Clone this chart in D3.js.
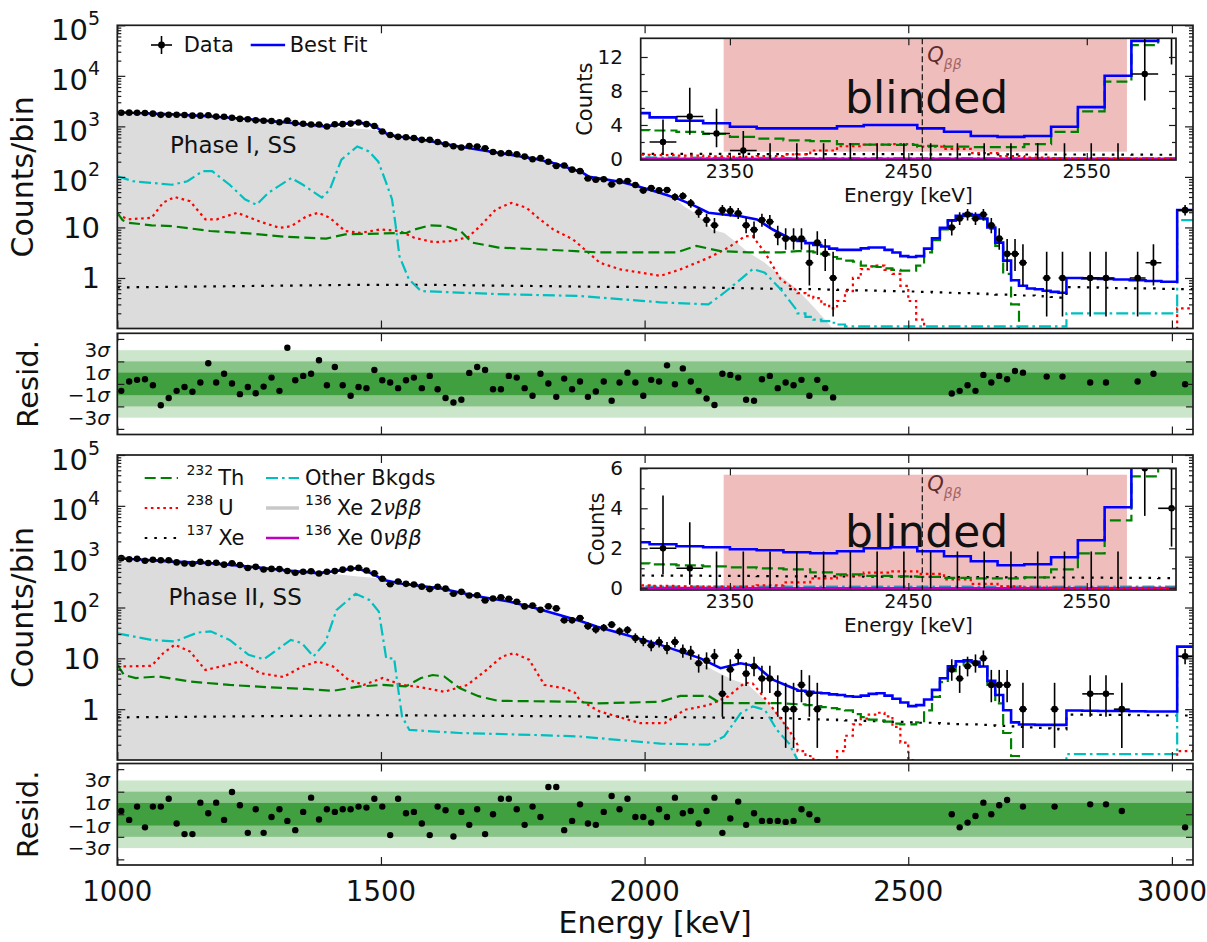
<!DOCTYPE html>
<html>
<head>
<meta charset="utf-8">
<script src="https://cdn.jsdelivr.net/npm/d3@7"></script>
<style>
  body { margin: 0; background: #fff; }
  svg { display: block; }
  text { font-family: "DejaVu Sans", "Liberation Sans", sans-serif; fill: #111; }
</style>
</head>
<body>
<svg id="chart" width="1207" height="942"></svg>
<script>
// ---------------- axis ticks and labels ----------------
const energyTicks = [1000, 1500, 2000, 2500, 3000];
const decadeTicks = [1, 10, 100, 1000, 10000, 100000];
const residTickMarks = [-4, -2, 0, 2, 4];
const residLabelValues = [3, 1, -1, -3];
const insetEnergyTicks = [2350, 2450, 2550];
const insetCountTicksI = [0, 4, 8, 12];
const insetCountMinorI = [2, 6, 10];
const insetCountTicksII = [0, 2, 4, 6];
const insetCountMinorII = [1, 3, 5];
const qBetaBeta = 2457.8;
const blindedWindow = [2346.5, 2572.5];
const blindedCountsI = [0.86, 14.2];
const blindedCountsII = [0.11, 5.68];
const phaseTitles = ["Phase I, SS", "Phase II, SS"];

// ---------------- binning: 15 keV up to 2800 keV, 30 keV above ----------------
const binEdges = d3.range(1000, 2800, 15).concat(d3.range(2800, 3041, 30));
const binCenters = binEdges.slice(0, -1).map((e, i) => (e + binEdges[i + 1]) / 2);
const TAIL_START = 86; // first stepped bin starts at 2290 keV

// ---------------- Phase I : observed counts per bin ----------------
const countsI = [
  1863,1869,1855,1833,1785,1690,1697,1699,1684,1631,1630,1663,1560,1550,1476,1405,1380,1315,1291,1280,
  1203,1306,1161,1124,1089,1092,996,1099,1106,1134,1191,1107,1019,789,673,620,608,588,541,541,
  489,443,405,381,409,399,368,312,292,297,281,252,224,235,200,165,168,139,130,93,
  88,90,71,82,83,69,54,60,54,55,40,42,30,20,14,11,22,21,19,11,
  9,14,13,7,6,6,6,2,5,3,1,
  0,0,0,0,0,0,0,0,0,0,0,0,0,0,
  10,15,18,15,18,11,6,3,3,2,0,0,1,0,1,
  0,1,1,0,1,2,0,22
];
const residI = [
  -0.62,0.21,0.36,0.42,-0.12,-1.9,-1.26,-0.62,-0.27,-0.7,0.12,1.83,0.12,0.9,0.03,-0.91,-0.27,-0.83,-0.24,0.56,
  -0.62,3.21,0.33,0.71,0.9,2.1,-0.12,1.5,-0.12,-1.06,-0.27,-0.38,1.24,0.33,0.12,-0.38,0.33,0.56,-0.38,0.71,
  -0.47,-1.26,-1.65,-1.41,0.98,1.5,1.24,-0.47,-0.47,0.71,0.56,-0.38,-1.06,0.9,0.03,-1.15,0.47,-0.47,0.21,-1.15,
  -0.68,0.21,-1.5,0.12,1.0,0.12,-1.06,0.36,0.21,1.65,-0.03,1.38,0.21,-0.62,-1.3,-1.88,0.9,0.8,0.56,-1.41,
  -1.5,0.42,0.71,-0.38,0.12,-0.12,0.36,-1.06,0.36,-0.38,-1.2,
  null,null,null,null,null,null,null,null,null,null,null,null,null,null,
  -0.85,-0.62,-0.12,-0.62,0.8,0.12,0.71,0.42,1.15,1.0,null,null,0.65,null,0.65,
  null,0.12,0.12,null,0.21,0.9,null,-0.03
];

// ---------------- Phase II : observed counts per bin ----------------
const countsII = [
  934,890,905,831,870,850,849,772,736,726,793,752,758,697,742,686,598,631,560,574,
  570,521,483,505,517,468,505,520,555,586,601,533,469,368,287,324,292,284,257,230,
  256,235,186,203,172,174,138,150,158,148,130,105,109,90,105,96,56,56,62,43,
  37,40,46,34,36,25,22,18,21,16,21,14,13,8,9,11,2,6,11,5,
  7,4,4,2,1,1,3,2,1,
  0,0,0,0,0,0,0,0,0,0,0,0,0,0,0,0,
  6,4,7,8,10,3,3,3,0,1,0,0,0,1,0,
  0,2,2,1,0,0,0,11
];
const residII = [
  0.29,-0.5,0.68,-1.16,0.68,0.68,1.38,-0.82,-1.76,-1.76,1.03,0.09,1.03,-0.5,1.97,0.8,-1.65,0.44,-1.65,-0.24,
  0.44,-0.59,-1.41,0.21,1.47,-0.47,0.44,0.21,0.44,0.44,0.68,0.59,1.38,0.68,-1.85,1.38,0.09,0.21,-0.82,-1.85,
  0.68,0.35,-1.97,0.21,-0.94,0.44,-1.76,0,1.38,1.38,0.44,-0.94,0.68,-0.24,2.41,2.41,-1.41,-0.59,0.88,-0.82,
  -0.94,0.21,1.62,0.44,1.38,-0.24,-0.24,-0.74,0.44,-0.24,1.47,0.09,0.29,-0.82,0.29,1.47,-1.65,-0.38,1.12,-0.94,
  0.09,-0.59,-0.59,-0.59,-0.68,-0.59,0.44,0,-0.5,
  null,null,null,null,null,null,null,null,null,null,null,null,null,null,null,null,
  0,-1.16,-0.74,-0.15,1.03,0,0.8,1.27,null,0.68,null,null,null,0.68,null,
  null,0.88,0.88,0.29,null,null,null,-1.16
];

// ---------------- Phase I : fit components, [keV, counts/bin] below 2290 keV ----------------
const bestFitKnotsI = [[1000,1900],[1050,1820],[1104,1740],[1165,1600],[1227,1450],[1270,1330],[1315,1210],[1355,1100],[1394,1000],[1420,1080],[1452,1200],[1475,1130],[1490,980],[1505,760],[1520,660],[1576,550],[1648,400],[1721,300],[1794,227],[1830,185],[1866,139],[1880,125],[1895,100],[1954,80],[1990,64],[2030,48],[2060,38],[2091,28],[2121,19.5],[2150,18],[2182,16.7],[2213,14.4],[2243,9.1],[2274,6.2],[2290,5.6]];
const twoNuKnotsI = [[1000,1850],[1104,1700],[1227,1420],[1315,1190],[1394,980],[1430,940],[1460,900],[1490,850],[1505,740],[1520,650],[1576,540],[1648,390],[1721,292],[1794,220],[1866,135],[1895,97],[1954,78],[2030,46],[2054,40],[2075,26],[2100,18],[2128,9],[2151,7.8],[2175,5],[2197,3.2],[2228,2.0],[2258,1.1],[2289,0.6],[2319,0.28],[2342,0.15],[2360,0.09]];
const thKnotsI = [[1000,19.5],[1010,14],[1021,12.4],[1065,11],[1104,10.6],[1176,8.5],[1249,7.6],[1322,6.5],[1396,6],[1432,7.3],[1505,7.6],[1549,7.8],[1564,9.1],[1593,11],[1622,10.6],[1651,8.5],[1673,5],[1723,4],[1796,3.7],[1869,3.4],[1913,3.2],[2060,3.2],[2098,4.3],[2144,3.4],[2200,3.2],[2260,3.2],[2290,3.4]];
const uKnotsI = [[1000,18],[1021,14.5],[1065,15.5],[1087,31],[1109,40],[1138,33],[1167,14.5],[1189,14.5],[1227,19.5],[1271,13],[1308,9.8],[1330,10.6],[1359,16.6],[1381,19.5],[1403,15.5],[1432,8.5],[1461,7.8],[1498,9.1],[1535,8.5],[1564,6.2],[1601,5.1],[1637,5.4],[1666,6.5],[1688,10.6],[1718,22.7],[1747,30.6],[1776,24.5],[1798,15.5],[1827,9.1],[1864,5.8],[1893,3.2],[1915,2.0],[1954,1.48],[2030,1.1],[2068,1.48],[2121,2.5],[2159,4],[2190,6.7],[2205,6.7],[2228,3.2],[2258,0.94],[2290,0.55]];
const xe137KnotsI = [[1000,0.65],[1450,0.73],[1600,0.73],[1913,0.67],[2100,0.65],[2290,0.6]];
const otherKnotsI = [[1000,103],[1030,82],[1104,70],[1133,82],[1162,130],[1180,130],[1213,70],[1242,36],[1264,28],[1286,48],[1330,95],[1352,70],[1388,39],[1403,56],[1425,220],[1455,400],[1477,320],[1495,200],[1510,76],[1521,36],[1528,10.7],[1535,2.7],[1553,0.94],[1576,0.55],[1721,0.48],[1877,0.44],[2030,0.33],[2121,0.3],[2151,0.51],[2182,0.94],[2205,1.5],[2228,1.27],[2258,0.6],[2290,0.22]];

// ---------------- Phase I : fit components per bin from 2290 keV ----------------
const bestFitTailI = [5.4,4.9,4.5,4.2,3.8,3.6,3.6,3.6,3.85,4.0,4.0,3.6,3.2,2.7,2.6,2.7,3.8,6.1,9.8,13.9,17,18.5,17.5,15,10,5,2.2,0.9,0.7,0.62,0.6,0.56,0.53,0.51, 1.0,0.98,0.96,0.93,0.9,0.87,0.84,22];
const thTailI = [3.4,3.35,3.2,2.95,2.6,2.4,2.2,2.1,1.75,1.7,1.65,1.55,1.45,1.4,1.4,1.75,3.2,5.6,9.1,13.4,16.5,18,17,14.5,9.5,4.3,1.2,0.3,0.05,0.02,0.02,0.02,0.02,0.02, 0.01,0.01,0.01,0.01,0.01,0.01,0.01,0.01];
const uTailI = [0.5,0.45,0.4,0.3,0.25,0.35,0.55,1.0,1.5,1.7,1.75,1.45,1.2,0.7,0.35,0.15,0.06,0.03,0.02,0.02,0.02,0.02,0.02,0.02,0.02,0.02,0.02,0.02,0.02,0.02,0.02,0.02,0.02,0.02, 0.03,0.03,0.03,0.03,0.03,0.03,0.03,0.25];
const xe137TailI = [0.6,0.6,0.6,0.59,0.59,0.58,0.58,0.57,0.57,0.56,0.56,0.55,0.55,0.54,0.54,0.53,0.53,0.52,0.52,0.51,0.5,0.5,0.49,0.49,0.48,0.47,0.47,0.46,0.45,0.45,0.44,0.43,0.42,0.41, 0.66,0.65,0.64,0.63,0.62,0.62,0.61,0.6];
const otherTailI = [0.2,0.17,0.15,0.14,0.13,0.12,0.11,0.11,0.11,0.11,0.11,0.11,0.11,0.11,0.11,0.11,0.11,0.11,0.11,0.11,0.11,0.11,0.11,0.11,0.11,0.11,0.11,0.11,0.11,0.11,0.11,0.11,0.11,0.11, 0.2,0.2,0.2,0.2,0.2,0.2,0.2,14];
const zeroNuTailI = [0.02,0.02,0.02,0.02,0.02,0.02,0.02,0.02,0.02,0.02,0.02,0.02,0.02,0.02,0.02,0.02,0.02,0.02,0.02,0.02,0.02,0.02,0.02,0.02,0.02,0.02,0.02,0.02,0.02,0.02,0.02,0.02,0.02,0.02, 0.02,0.02,0.02,0.02,0.02,0.02,0.02,0.02];

// ---------------- Phase II : fit components, [keV, counts/bin] below 2290 keV ----------------
const bestFitKnotsII = [[1000,933],[1050,870],[1104,800],[1176,745],[1249,640],[1322,535],[1380,475],[1409,510],[1452,590],[1474,510],[1490,430],[1503,350],[1540,293],[1612,240],[1685,165],[1743,131],[1794,97],[1837,72],[1881,53],[1910,42],[1954,31],[2030,18.4],[2106,10],[2144,6.4],[2182,8],[2213,6.9],[2243,3.8],[2274,2.8],[2290,2.4]];
const twoNuKnotsII = [[1000,900],[1104,780],[1176,725],[1249,625],[1322,520],[1380,460],[1420,445],[1452,410],[1490,380],[1503,340],[1540,285],[1612,235],[1685,160],[1743,127],[1794,94],[1837,70],[1881,51],[1954,30],[2030,17.5],[2054,15],[2076,13],[2100,9],[2128,6],[2167,3.8],[2197,3],[2228,1.5],[2258,0.72],[2274,0.39],[2293,0.09]];
const thKnotsII = [[1000,7.4],[1013,4.7],[1035,4.1],[1079,4.4],[1138,3.5],[1213,3.0],[1286,2.7],[1358,2.5],[1409,2.3],[1460,2.8],[1503,3.0],[1547,2.8],[1576,4.1],[1598,4.7],[1620,4.4],[1649,2.6],[1685,1.8],[1722,1.46],[1868,1.4],[1910,1.3],[2030,1.4],[2068,1.83],[2121,1.83],[2144,1.31],[2258,1.31],[2290,1.25]];
const uKnotsII = [[1000,6.9],[1065,7.1],[1087,12.6],[1109,18.5],[1138,13.6],[1167,5.9],[1196,6.9],[1233,8.7],[1271,5.1],[1315,4.3],[1351,6.9],[1380,8.7],[1409,6.9],[1438,3.8],[1467,3.0],[1503,4.1],[1540,3.0],[1576,2.7],[1620,2.2],[1664,3.0],[1700,5.9],[1730,10.9],[1752,12.6],[1781,9.4],[1810,3.0],[1846,2.6],[1868,2.1],[1877,1.5],[1915,0.9],[1992,0.53],[2038,0.53],[2076,0.97],[2121,1.2],[2159,1.8],[2190,3.3],[2205,3.2],[2236,1.3],[2274,0.39],[2290,0.2]];
const xe137KnotsII = [[1000,0.69],[1500,0.76],[1910,0.72],[2290,0.66]];
const otherKnotsII = [[1000,31],[1065,23],[1109,21.4],[1152,32],[1177,34],[1213,23],[1249,11.7],[1278,9.6],[1329,23],[1350,20],[1372,10.9],[1394,20],[1416,90],[1452,186],[1478,141],[1496,83],[1510,10],[1525,10],[1532,2.8],[1540,0.72],[1554,0.39],[1649,0.34],[1794,0.31],[1877,0.29],[2030,0.21],[2121,0.2],[2151,0.29],[2182,0.83],[2205,1.13],[2228,0.97],[2251,0.39],[2274,0.21],[2290,0.1]];

// ---------------- Phase II : fit components per bin from 2290 keV ----------------
const bestFitTailII = [2.3,2.2,2.1,2.05,1.95,1.9,1.8,1.75,1.85,2.0,2.05,1.85,1.6,1.35,1.15,1.2,1.55,2.4,4.05,7,8.7,9.1,8.5,6.9,3.6,1.9,0.95,0.55,0.5,0.5,0.49,0.49,0.49,0.49, 0.94,0.93,0.92,0.92,0.91,0.9,0.9,17];
const thTailII = [1.25,1.2,1.15,1.1,1.05,1.0,0.95,0.8,0.7,0.62,0.6,0.57,0.52,0.5,0.5,0.55,0.95,1.75,3.4,5.6,7.5,8.6,8.0,6.9,3.0,1.3,0.34,0.12,0.03,0.01,0.01,0.01,0.01,0.01, 0.01,0.01,0.01,0.01,0.01,0.01,0.01,0.01];
const uTailII = [0.15,0.12,0.1,0.08,0.08,0.15,0.3,0.5,0.65,0.78,0.85,0.72,0.45,0.22,0.1,0.04,0.02,0.02,0.02,0.02,0.02,0.02,0.02,0.02,0.02,0.02,0.02,0.02,0.02,0.02,0.02,0.02,0.02,0.02, 0.02,0.02,0.02,0.02,0.02,0.02,0.02,0.15];
const xe137TailII = [0.64,0.63,0.63,0.62,0.62,0.61,0.6,0.6,0.59,0.58,0.58,0.57,0.56,0.56,0.55,0.54,0.54,0.53,0.52,0.52,0.51,0.5,0.5,0.49,0.48,0.47,0.47,0.46,0.45,0.44,0.43,0.42,0.41,0.4, 0.78,0.78,0.77,0.77,0.76,0.76,0.75,0.75];
const otherTailII = [0.1,0.09,0.09,0.09,0.09,0.09,0.09,0.09,0.09,0.09,0.09,0.09,0.09,0.09,0.09,0.09,0.09,0.09,0.09,0.09,0.09,0.09,0.09,0.09,0.09,0.09,0.09,0.09,0.09,0.09,0.09,0.09,0.09,0.09, 0.13,0.13,0.13,0.13,0.13,0.13,0.13,10.8];
const zeroNuTailII = [0.02,0.02,0.02,0.02,0.02,0.02,0.02,0.02,0.02,0.02,0.02,0.02,0.02,0.02,0.02,0.02,0.02,0.02,0.02,0.02,0.02,0.02,0.02,0.02,0.02,0.02,0.02,0.02,0.02,0.02,0.02,0.02,0.02,0.02, 0.02,0.02,0.02,0.02,0.02,0.02,0.02,0.02];

// 68% Poisson intervals for small counts
const poissonLow  = [0, 0.173, 0.708, 1.367, 2.086, 2.840, 3.620, 4.419, 5.232, 6.057, 6.891];
const poissonHigh = [1.841, 3.300, 4.638, 5.918, 7.163, 8.382, 9.584, 10.77, 11.95, 13.11, 14.27];
function poissonBand(n) {
  if (n <= 10) return [poissonLow[n], poissonHigh[n]];
  const s = Math.sqrt(n);
  return [n - s, n + s + 1];
}

// ---------------- styles ----------------
const STYLE = {
  fit:    { stroke: "#0000ff", width: 2.6, dash: null },
  th:     { stroke: "#008000", width: 2.2, dash: "11,5" },
  u:      { stroke: "#ff0000", width: 2.2, dash: "2.6,3.6" },
  xe137:  { stroke: "#000000", width: 2.2, dash: "2.6,7" },
  other:  { stroke: "#00bfbf", width: 2.2, dash: "12,4,2.6,4" },
  zeroNu: { stroke: "#bf00bf", width: 2.4, dash: null }
};
const TWO_NU_FILL = "#dcdcdc";
const FRAME = "#1c1c1c";

const svg = d3.select("#chart");
const defs = svg.append("defs");
const X0 = 117.3, X1 = 1193;
const x = d3.scaleLinear().domain([1000, 3040]).range([X0, X1]);

function stepPoints(tail) {
  const pts = [];
  tail.forEach((v, i) => {
    pts.push([binEdges[TAIL_START + i], v], [binEdges[TAIL_START + i + 1], v]);
  });
  return pts;
}

function addClip(id, x0, y0, w, h) {
  defs.append("clipPath").attr("id", id).append("rect")
    .attr("x", x0).attr("y", y0).attr("width", w).attr("height", h);
}

function tickAxis(g, axis, tx, ty) {
  g.append("g").attr("transform", `translate(${tx},${ty})`).call(axis)
    .call(s => s.select(".domain").remove())
    .call(s => s.selectAll("line").attr("stroke", FRAME).attr("stroke-width", 1.2));
}

function frame(g, x0, y0, x1, y1) {
  g.append("rect").attr("x", x0).attr("y", y0).attr("width", x1 - x0).attr("height", y1 - y0)
    .attr("fill", "none").attr("stroke", FRAME).attr("stroke-width", 1.7);
}

function styledPath(g, pts, line, st) {
  const p = g.append("path").datum(pts).attr("d", line)
    .attr("fill", "none").attr("stroke", st.stroke).attr("stroke-width", st.width)
    .attr("stroke-linejoin", "miter");
  if (st.dash) p.attr("stroke-dasharray", st.dash);
  return p;
}

function supLabel(g, xr, yb, base, sup, size, supSize, anchor) {
  const t = g.append("text").attr("x", xr).attr("y", yb).attr("text-anchor", anchor || "end")
    .attr("font-size", size);
  t.append("tspan").text(base);
  if (sup !== null) t.append("tspan").attr("font-size", supSize).attr("dy", -15).text(sup);
  return t;
}

// ---------------- main spectrum panel ----------------
function drawMain(p) {
  const y = d3.scaleLog().domain([0.1, 1e5]).range([p.bottom, p.top]);
  const g = svg.append("g");
  const clip = "clip-main-" + p.key;
  addClip(clip, X0, p.top, X1 - X0, p.bottom - p.top);
  const plot = g.append("g").attr("clip-path", `url(#${clip})`);
  const line = d3.line().x(d => x(d[0])).y(d => y(d[1]));

  plot.append("path").datum(p.twoNu)
    .attr("d", d3.area().x(d => x(d[0])).y0(p.bottom).y1(d => y(d[1])))
    .attr("fill", TWO_NU_FILL);

  styledPath(plot, p.xe137Knots.concat(stepPoints(p.xe137Tail)), line, STYLE.xe137);
  styledPath(plot, p.uKnots.concat(stepPoints(p.uTail)), line, STYLE.u);
  styledPath(plot, p.thKnots.concat(stepPoints(p.thTail)), line, STYLE.th);
  styledPath(plot, p.otherKnots.concat(stepPoints(p.otherTail)), line, STYLE.other);
  styledPath(plot, stepPoints(p.zeroNuTail), line, STYLE.zeroNu);
  styledPath(plot, p.fitKnots.concat(stepPoints(p.fitTail)), line, STYLE.fit);

  // data with Poisson error bars
  const pts = p.counts.map((n, i) => ({ n, i })).filter(d => d.n > 0);
  const dg = plot.append("g").attr("stroke", "#000").attr("stroke-width", 1.6);
  pts.forEach(d => {
    const [lo, hi] = poissonBand(d.n);
    const cx = x(binCenters[d.i]);
    dg.append("line").attr("x1", cx).attr("x2", cx).attr("y1", y(Math.max(lo, 0.01))).attr("y2", y(hi));
    dg.append("line").attr("x1", x(binEdges[d.i])).attr("x2", x(binEdges[d.i + 1]))
      .attr("y1", y(d.n)).attr("y2", y(d.n));
  });
  plot.append("g").selectAll("circle").data(pts).join("circle")
    .attr("cx", d => x(binCenters[d.i])).attr("cy", d => y(d.n)).attr("r", 3.3).attr("fill", "#000");

  plot.append("text").attr("x", p.titleX).attr("y", p.titleY).attr("font-size", 23).attr("fill", "#222")
    .text(p.title);

  // ticks
  const minors = [];
  [0.1, 1, 10, 100, 1000, 10000].forEach(d => { for (let k = 2; k <= 9; k++) minors.push(d * k); });
  tickAxis(g, d3.axisLeft(y).tickValues(decadeTicks).tickSize(-8).tickFormat(""), X0, 0);
  tickAxis(g, d3.axisRight(y).tickValues(decadeTicks).tickSize(-8).tickFormat(""), X1, 0);
  tickAxis(g, d3.axisLeft(y).tickValues(minors).tickSize(-4).tickFormat(""), X0, 0);
  tickAxis(g, d3.axisRight(y).tickValues(minors).tickSize(-4).tickFormat(""), X1, 0);
  tickAxis(g, d3.axisBottom(x).tickValues(energyTicks).tickSize(-8).tickFormat(""), 0, p.bottom);
  tickAxis(g, d3.axisTop(x).tickValues(energyTicks).tickSize(-8).tickFormat(""), 0, p.top);
  frame(g, X0, p.top, X1, p.bottom);

  decadeTicks.forEach(v => {
    const e = Math.round(Math.log10(v));
    if (e <= 1) supLabel(g, 100, y(v) + 10.5, String(v), null, 29);
    else supLabel(g, 100, y(v) + 14.5, "10", String(e), 29, 19);
  });

  g.append("text").attr("transform", `translate(33,${(p.top + p.bottom) / 2}) rotate(-90)`)
    .attr("text-anchor", "middle").attr("font-size", 30).text("Counts/bin");
  return y;
}

// ---------------- residual panel ----------------
function drawResid(p) {
  const y = d3.scaleLinear().domain([-4.5, 4.5]).range([p.bottom, p.top]);
  const g = svg.append("g");
  const bands = [[3, "#cce6cc"], [2, "#88c388"], [1, "#40a040"]];
  bands.forEach(([s, c]) => {
    g.append("rect").attr("x", X0).attr("width", X1 - X0)
      .attr("y", y(s)).attr("height", y(-s) - y(s)).attr("fill", c);
  });
  const pts = p.resid.map((r, i) => ({ r, i })).filter(d => d.r !== null);
  g.append("g").selectAll("circle").data(pts).join("circle")
    .attr("cx", d => x(binCenters[d.i])).attr("cy", d => y(d.r)).attr("r", 3.2).attr("fill", "#000");

  tickAxis(g, d3.axisLeft(y).tickValues(residTickMarks).tickSize(-7).tickFormat(""), X0, 0);
  tickAxis(g, d3.axisRight(y).tickValues(residTickMarks).tickSize(-7).tickFormat(""), X1, 0);
  tickAxis(g, d3.axisBottom(x).tickValues(energyTicks).tickSize(-8).tickFormat(""), 0, p.bottom);
  tickAxis(g, d3.axisTop(x).tickValues(energyTicks).tickSize(-8).tickFormat(""), 0, p.top);
  frame(g, X0, p.top, X1, p.bottom);

  residLabelValues.forEach(v => {
    const t = g.append("text").attr("x", 110).attr("y", y(v) + 7).attr("text-anchor", "end").attr("font-size", 20);
    t.append("tspan").text((v < 0 ? "\u2212" : "") + Math.abs(v));
    t.append("tspan").attr("font-style", "italic").text("\u03c3");
  });
  g.append("text").attr("transform", `translate(38,${(p.top + p.bottom) / 2}) rotate(-90)`)
    .attr("text-anchor", "middle").attr("font-size", 29).text("Resid.");
  return y;
}

// ---------------- zoomed inset around Q_bb ----------------
function drawInset(p) {
  const L = 640.7, R = 1176;
  const xi = d3.scaleLinear().domain([2300, 2600]).range([L, R]);
  const yi = d3.scaleLinear().domain(p.countDomain).range([p.bottom, p.top]);
  const g = svg.append("g");
  g.append("rect").attr("x", L).attr("y", p.top).attr("width", R - L).attr("height", p.bottom - p.top).attr("fill", "#fff");
  const clip = "clip-inset-" + p.key;
  addClip(clip, L, p.top, R - L, p.bottom - p.top);
  const plot = g.append("g").attr("clip-path", `url(#${clip})`);

  plot.append("rect").attr("x", xi(blindedWindow[0])).attr("width", xi(blindedWindow[1]) - xi(blindedWindow[0]))
    .attr("y", yi(p.blindedCounts[1])).attr("height", yi(p.blindedCounts[0]) - yi(p.blindedCounts[1]))
    .attr("fill", "#f0bdbd");
  plot.append("text").attr("x", 845).attr("y", p.blindedY).attr("font-size", 44).attr("fill", "#000").text("blinded");

  const line = d3.line().x(d => xi(d[0])).y(d => yi(d[1]));
  styledPath(plot, stepPoints(p.xe137Tail), line, STYLE.xe137);
  styledPath(plot, stepPoints(p.otherTail), line, STYLE.other);
  styledPath(plot, stepPoints(p.zeroNuTail), line, STYLE.zeroNu);
  styledPath(plot, stepPoints(p.uTail), line, STYLE.u);
  styledPath(plot, stepPoints(p.thTail), line, STYLE.th);
  styledPath(plot, stepPoints(p.fitTail), line, STYLE.fit);

  plot.append("line").attr("x1", xi(qBetaBeta)).attr("x2", xi(qBetaBeta)).attr("y1", p.top).attr("y2", p.bottom)
    .attr("stroke", "#000").attr("stroke-width", 1.1).attr("stroke-dasharray", "6,3");
  const q = plot.append("text").attr("x", xi(qBetaBeta) + 5).attr("y", p.qY).attr("font-style", "italic");
  q.append("tspan").attr("font-size", 21).attr("fill", "#5e2b2b").text("Q");
  q.append("tspan").attr("font-size", 14).attr("dy", 7).attr("fill", "#a06565").text("\u03b2\u03b2");

  // data in the zoomed window
  const dg = plot.append("g").attr("stroke", "#000").attr("stroke-width", 1.6);
  const inWin = d3.range(TAIL_START, TAIL_START + 21).filter(i => binCenters[i] > 2300);
  inWin.forEach(i => {
    const n = p.counts[i];
    const [lo, hi] = poissonBand(n);
    const cx = xi(binCenters[i]);
    dg.append("line").attr("x1", cx).attr("x2", cx).attr("y1", yi(lo)).attr("y2", yi(hi));
    if (n > 0) {
      dg.append("line").attr("x1", xi(binEdges[i])).attr("x2", xi(binEdges[i + 1])).attr("y1", yi(n)).attr("y2", yi(n));
      plot.append("circle").attr("cx", cx).attr("cy", yi(n)).attr("r", 3.2).attr("fill", "#000");
    }
  });

  tickAxis(g, d3.axisBottom(xi).tickValues(insetEnergyTicks).tickSize(-7).tickFormat(""), 0, p.bottom);
  tickAxis(g, d3.axisTop(xi).tickValues(insetEnergyTicks).tickSize(-7).tickFormat(""), 0, p.top);
  tickAxis(g, d3.axisLeft(yi).tickValues(p.countTicks).tickSize(-7).tickFormat(""), L, 0);
  tickAxis(g, d3.axisRight(yi).tickValues(p.countTicks).tickSize(-7).tickFormat(""), R, 0);
  tickAxis(g, d3.axisLeft(yi).tickValues(p.countMinor).tickSize(-4).tickFormat(""), L, 0);
  tickAxis(g, d3.axisRight(yi).tickValues(p.countMinor).tickSize(-4).tickFormat(""), R, 0);
  frame(g, L, p.top, R, p.bottom);

  p.countTicks.forEach(v => {
    g.append("text").attr("x", 623).attr("y", yi(v) + 7).attr("text-anchor", "end").attr("font-size", 20).text(v);
  });
  insetEnergyTicks.forEach(v => {
    g.append("text").attr("x", xi(v)).attr("y", p.bottom + 18.3).attr("text-anchor", "middle").attr("font-size", 19).text(v);
  });
  g.append("text").attr("x", (L + R) / 2).attr("y", p.bottom + 41.5).attr("text-anchor", "middle")
    .attr("font-size", 20).text("Energy [keV]");
  g.append("text").attr("transform", `translate(${p.labelX},${(p.top + p.bottom) / 2}) rotate(-90)`)
    .attr("text-anchor", "middle").attr("font-size", 21).text("Counts");
}

// ---------------- Phase I ----------------
drawMain({
  key: "I", top: 25.3, bottom: 328.5, title: phaseTitles[0], titleX: 170, titleY: 153,
  counts: countsI, twoNu: twoNuKnotsI,
  fitKnots: bestFitKnotsI, fitTail: bestFitTailI, thKnots: thKnotsI, thTail: thTailI,
  uKnots: uKnotsI, uTail: uTailI, xe137Knots: xe137KnotsI, xe137Tail: xe137TailI,
  otherKnots: otherKnotsI, otherTail: otherTailI, zeroNuTail: zeroNuTailI
});
drawResid({ top: 333.3, bottom: 434.5, resid: residI });
drawInset({
  key: "I", top: 38.3, bottom: 160, countDomain: [-0.12, 14.2], countTicks: insetCountTicksI,
  countMinor: insetCountMinorI, blindedCounts: blindedCountsI, blindedY: 113, qY: 62, labelX: 592,
  counts: countsI, fitTail: bestFitTailI, thTail: thTailI, uTail: uTailI,
  xe137Tail: xe137TailI, otherTail: otherTailI, zeroNuTail: zeroNuTailI
});

// ---------------- Phase II ----------------
drawMain({
  key: "II", top: 455, bottom: 760, title: phaseTitles[1], titleX: 168.4, titleY: 605,
  counts: countsII, twoNu: twoNuKnotsII,
  fitKnots: bestFitKnotsII, fitTail: bestFitTailII, thKnots: thKnotsII, thTail: thTailII,
  uKnots: uKnotsII, uTail: uTailII, xe137Knots: xe137KnotsII, xe137Tail: xe137TailII,
  otherKnots: otherKnotsII, otherTail: otherTailII, zeroNuTail: zeroNuTailII
});
drawResid({ top: 763.5, bottom: 865, resid: residII });
drawInset({
  key: "II", top: 468.3, bottom: 590, countDomain: [-0.085, 6], countTicks: insetCountTicksII,
  countMinor: insetCountMinorII, blindedCounts: blindedCountsII, blindedY: 546.5, qY: 491, labelX: 604,
  counts: countsII, fitTail: bestFitTailII, thTail: thTailII, uTail: uTailII,
  xe137Tail: xe137TailII, otherTail: otherTailII, zeroNuTail: zeroNuTailII
});

// ---------------- legends ----------------
const lg1 = svg.append("g");
lg1.append("line").attr("x1", 161.5).attr("x2", 161.5).attr("y1", 36).attr("y2", 54).attr("stroke", "#000").attr("stroke-width", 1.6);
lg1.append("line").attr("x1", 151).attr("x2", 172).attr("y1", 45).attr("y2", 45).attr("stroke", "#000").attr("stroke-width", 1.6);
lg1.append("circle").attr("cx", 161.5).attr("cy", 45).attr("r", 3.4).attr("fill", "#000");
lg1.append("text").attr("x", 183.7).attr("y", 52).attr("font-size", 21).text("Data");
lg1.append("line").attr("x1", 250.7).attr("x2", 285.1).attr("y1", 45).attr("y2", 45)
  .attr("stroke", STYLE.fit.stroke).attr("stroke-width", STYLE.fit.width);
lg1.append("text").attr("x", 289.7).attr("y", 52).attr("font-size", 21).text("Best Fit");

const legendEntries = [
  { col: 0, row: 0, style: STYLE.th, sup: "232", name: "Th" },
  { col: 0, row: 1, style: STYLE.u, sup: "238", name: "U" },
  { col: 0, row: 2, style: STYLE.xe137, sup: "137", name: "Xe" },
  { col: 1, row: 0, style: STYLE.other, sup: null, name: "Other Bkgds" },
  { col: 1, row: 1, style: { stroke: "#c8c8c8", width: 3.6, dash: null }, sup: "136", name: "Xe 2", greek: "\u03bd\u03b2\u03b2" },
  { col: 1, row: 2, style: STYLE.zeroNu, sup: "136", name: "Xe 0", greek: "\u03bd\u03b2\u03b2" }
];
const lg2 = svg.append("g");
const colLine = [[144.7, 178], [266, 299]];
const colText = [186.4, 305];
legendEntries.forEach(e => {
  const yb = 485 + e.row * 30;
  const st = e.style;
  const ln = lg2.append("line").attr("x1", colLine[e.col][0]).attr("x2", colLine[e.col][1])
    .attr("y1", yb - 7).attr("y2", yb - 7).attr("stroke", st.stroke).attr("stroke-width", st.width);
  if (st.dash) ln.attr("stroke-dasharray", st.dash);
  const t = lg2.append("text").attr("x", colText[e.col]).attr("y", yb).attr("font-size", 21);
  if (e.sup) {
    t.append("tspan").attr("font-size", 14).attr("dy", -10).text(e.sup);
    t.append("tspan").attr("dy", 10).attr("dx", 5).text(e.name);
  } else {
    t.append("tspan").text(e.name);
  }
  if (e.greek) t.append("tspan").attr("font-style", "italic").text(e.greek);
});

// ---------------- shared energy axis labels ----------------
energyTicks.forEach(v => {
  svg.append("text").attr("x", x(v)).attr("y", 901).attr("text-anchor", "middle").attr("font-size", 27.6).text(v);
});
svg.append("text").attr("x", (X0 + X1) / 2).attr("y", 933).attr("text-anchor", "middle")
  .attr("font-size", 30).text("Energy [keV]");
</script>
</body>
</html>
